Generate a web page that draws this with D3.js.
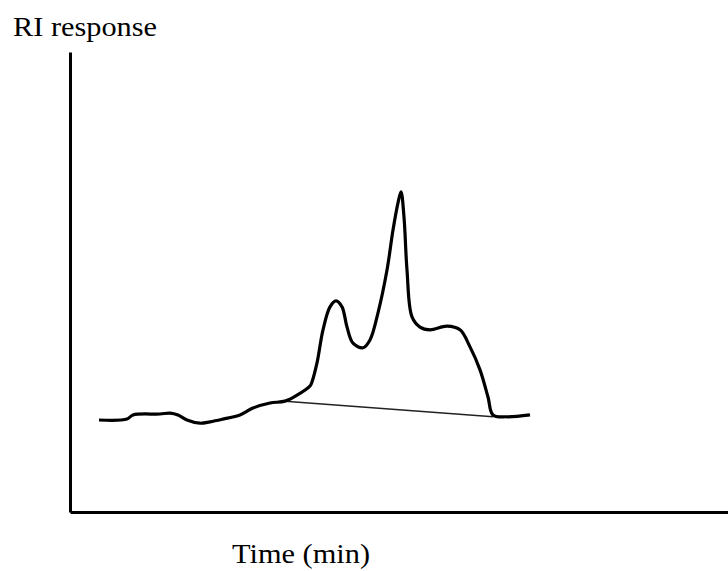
<!DOCTYPE html>
<html>
<head>
<meta charset="utf-8">
<script src="https://cdn.jsdelivr.net/npm/d3@7"></script>
<style>
  body { margin: 0; background: #fff; }
  text { font-family: "Liberation Serif", "Times New Roman", serif; fill: #000; }
</style>
</head>
<body>
<div id="svg-container"></div>
<script>
// time (min), arbitrary units
const times = [1.45, 2.85, 3.15, 4.5, 5.0, 5.4, 5.85, 6.5, 7.0, 7.65, 8.5, 9.15, 10.0, 10.75, 11.35, 12.0,
  12.1, 12.35, 12.65, 13.0, 13.3, 13.6, 13.85, 14.15, 14.65, 15.0, 15.4, 15.85, 16.15, 16.4, 16.55,
  16.7, 16.85, 17.1, 17.5, 18.0, 18.85, 19.5, 20.0, 20.5, 20.9, 21.15, 21.85, 23.0];
// RI response
const response = [20.0, 20.2, 21.1, 21.3, 21.5, 21.1, 20.0, 19.3, 19.6, 20.2, 21.1, 22.6, 23.7, 24.1, 25.4, 27.4,
  28.3, 32.4, 39.6, 44.6, 45.9, 44.6, 40.2, 36.7, 35.7, 37.4, 43.3, 52.6, 61.3, 67.2, 69.6,
  64.1, 52.6, 42.4, 40.2, 39.6, 40.4, 39.6, 35.9, 30.9, 25.0, 21.1, 20.7, 21.1];
// drawn baseline under the peaks
const baseTimes = [10.75, 21.15];
const baseResponse = [24.1, 20.7];

const yLabel = "RI response";
const xLabel = "Time (min)";

const w = 728;
const h = 571;
const margin = {top: 52, right: 0, bottom: 59, left: 70};
const width = w - margin.left - margin.right;
const height = h - margin.top - margin.bottom;

const svg = d3.select("#svg-container")
  .append("svg")
  .attr("width", w)
  .attr("height", h);

/** Scales, no ticks on either axis */
const xScale = d3.scaleLinear()
  .domain([0, width / 20])
  .range([0, width]);
const yScale = d3.scaleLinear()
  .domain([0, 100])
  .range([height, 0]);

const chart = svg.append("g")
  .attr("transform", "translate(" + margin.left + "," + margin.top + ")");

// axes as plain lines
chart.append("g")
  .attr("id", "x-axis")
  .attr("transform", "translate(0," + height + ")")
  .call(d3.axisBottom(xScale).ticks(0).tickSizeOuter(0))
  .select(".domain")
  .attr("stroke", "#000")
  .attr("stroke-width", 3);
chart.append("g")
  .attr("id", "y-axis")
  .call(d3.axisLeft(yScale).ticks(0).tickSizeOuter(0))
  .select(".domain")
  .attr("stroke", "#000")
  .attr("stroke-width", 3);

/** Thin baseline */
const line = d3.line()
  .x((d) => xScale(d[0]))
  .y((d) => yScale(d[1]));

chart.append("path")
  .datum(baseTimes.map((t, i) => [t, baseResponse[i]]))
  .attr("fill", "none")
  .attr("stroke", "#222")
  .attr("stroke-width", 1.5)
  .attr("d", line);

/** Chromatogram trace */
chart.append("path")
  .datum(times.map((t, i) => [t, response[i]]))
  .attr("fill", "none")
  .attr("stroke", "#000")
  .attr("stroke-width", 3.2)
  .attr("stroke-linejoin", "round")
  .attr("d", line.curve(d3.curveCatmullRom.alpha(0.5)));

/** Labels */
svg.append("text")
  .attr("x", 13)
  .attr("y", 36)
  .attr("textLength", 144)
  .attr("lengthAdjust", "spacingAndGlyphs")
  .style("font-size", "27px")
  .text(yLabel);

svg.append("text")
  .attr("x", 232)
  .attr("y", 563)
  .attr("textLength", 138)
  .attr("lengthAdjust", "spacingAndGlyphs")
  .style("font-size", "27px")
  .text(xLabel);
</script>
</body>
</html>
